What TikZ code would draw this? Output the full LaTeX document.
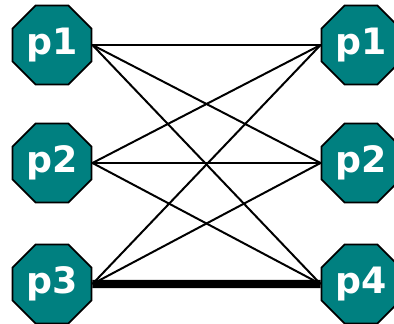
\documentclass[tikz,border=0pt]{standalone}
\usepackage{fontspec}
\setsansfont{DejaVu Sans}
\usepackage{tikz}
\usetikzlibrary{shapes.geometric}
\usepackage{xcolor}
\definecolor{tealbox}{RGB}{0,128,128}

\begin{document}
\begin{tikzpicture}[
    proc/.style={regular polygon, regular polygon sides=8, draw=black, line width=1.6pt, fill=tealbox, text=white, inner sep=0pt, minimum size=2.565cm, font=\sffamily\bfseries\fontsize{31}{31}\selectfont},
    link/.style={black, line width=1.7pt},
    heavy/.style={black, line width=7pt}
    ]
        \useasboundingbox (0,0) rectangle (11.82,9.72);
        \node[proc] (l1) at (1.56,8.37) {p1};
        \node[proc] (l2) at (1.56,4.83) {p2};
        \node[proc] (l3) at (1.56,1.2) {p3};
        \node[proc] (r1) at (10.83,8.37) {p1};
        \node[proc] (r2) at (10.83,4.83) {p2};
        \node[proc] (r4) at (10.83,1.2) {p4};
        \draw[link] (l1.east) -- (r1.west);
        \draw[link] (l1.east) -- (r2.west);
        \draw[link] (l1.east) -- (r4.west);
        \draw[link] (l2.east) -- (r1.west);
        \draw[link] (l2.east) -- (r2.west);
        \draw[link] (l2.east) -- (r4.west);
        \draw[link] (l3.east) -- (r1.west);
        \draw[link] (l3.east) -- (r2.west);
        \draw[heavy] (l3.east) -- (r4.west);
    \end{tikzpicture}
\end{document}
